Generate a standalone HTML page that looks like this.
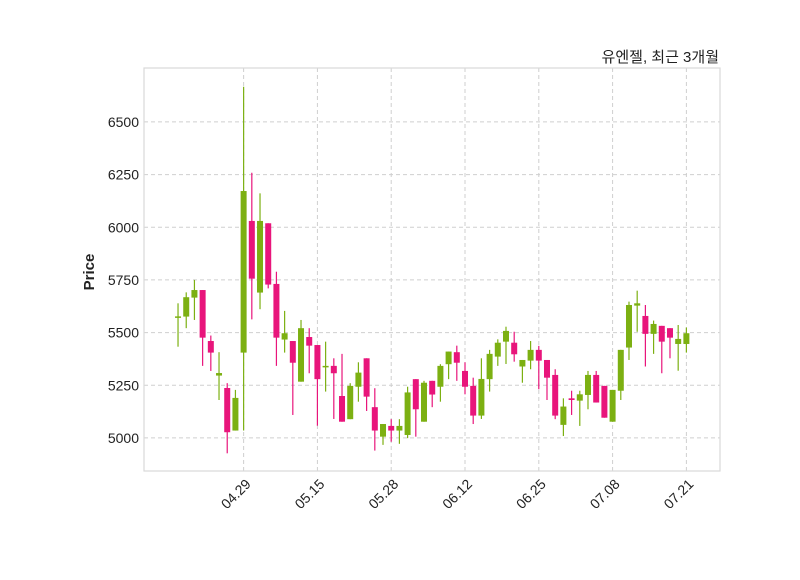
<!DOCTYPE html>
<html><head><meta charset="utf-8"><style>
body{margin:0;background:#fff;font-family:"Liberation Sans","Noto Sans CJK KR",sans-serif}
svg text{font-family:"Liberation Sans","Noto Sans CJK KR",sans-serif}
</style></head><body>
<svg id="chart" width="800" height="575" xmlns="http://www.w3.org/2000/svg">
<rect x="0" y="0" width="800" height="575" fill="#fff"/>
<g id="grid"></g>
<g id="candles"></g>
<rect x="144" y="68" width="576" height="403" fill="none" stroke="#d9d9d9" stroke-width="1.2"/>
<g id="yticks"></g>
<g id="xticks"></g>
<text x="0" y="0" transform="translate(94,272) rotate(-90)" text-anchor="middle" font-size="15" font-weight="bold" fill="#222">Price</text>
<text x="719" y="62" text-anchor="end" font-size="15" fill="#222">유엔젤, 최근 3개월</text>
</svg>
<script>
const opens=[5577,5576,5666,5702,5460,5296,5237,5035,5405,6030,5690,6019,5731,5467,5460,5267,5479,5441,5342,5342,5199,5089,5243,5378,5146,5006,5057,5035,5014,5279,5077,5271,5243,5350,5407,5318,5247,5106,5279,5386,5457,5452,5339,5367,5418,5370,5299,5062,5188,5177,5204,5299,5247,5077,5224,5429,5628,5579,5494,5532,5521,5446,5446];
const closes=[5577,5668,5702,5476,5405,5308,5027,5190,6172,5756,6030,5728,5476,5497,5357,5521,5438,5279,5342,5307,5077,5247,5310,5196,5035,5066,5035,5057,5216,5136,5262,5206,5342,5410,5357,5243,5106,5280,5399,5452,5508,5397,5370,5418,5367,5286,5106,5149,5180,5207,5299,5168,5096,5228,5418,5631,5639,5494,5541,5457,5476,5470,5497];
const highs=[5639,5691,5750,5702,5486,5407,5260,5228,6667,6259,6161,6019,5789,5603,5460,5560,5521,5441,5457,5378,5399,5260,5359,5378,5236,5066,5089,5089,5243,5279,5271,5271,5350,5410,5438,5359,5286,5378,5418,5468,5528,5504,5370,5460,5437,5370,5326,5188,5224,5224,5318,5318,5247,5228,5418,5647,5699,5631,5557,5532,5521,5536,5524];
const lows=[5433,5521,5560,5342,5318,5180,4927,5035,5035,5563,5611,5710,5342,5405,5109,5267,5307,5058,5220,5090,5077,5089,5172,5128,4940,4967,4982,4972,4999,5006,5077,5146,5172,5279,5271,5207,5066,5090,5220,5342,5351,5362,5262,5326,5231,5180,5089,5009,5109,5057,5136,5168,5096,5077,5180,5370,5504,5339,5399,5307,5378,5319,5405];
const xTickIdx=[8,17,26,35,44,53,62];
const xTickLabels=["04.29","05.15","05.28","06.12","06.25","07.08","07.21"];
const yTicks=[5000,5250,5500,5750,6000,6250,6500];

const NS="http://www.w3.org/2000/svg";
const X0=144,X1=720,Y0=68,Y1=471;
const xMin=-4.15,xMax=66.1,pMin=4843,pMax=6756;
const xs=i=>X0+(i-xMin)/(xMax-xMin)*(X1-X0);
const ys=p=>Y1-(p-pMin)/(pMax-pMin)*(Y1-Y0);
function mk(tag,attrs,parent){const e=document.createElementNS(NS,tag);for(const k in attrs)e.setAttribute(k,attrs[k]);parent.appendChild(e);return e;}
const grid=document.getElementById('grid'),yt=document.getElementById('yticks'),xt=document.getElementById('xticks'),cg=document.getElementById('candles');
yTicks.forEach(v=>{
  const y=ys(v);
  const l=mk('line',{x1:X0,x2:X1,y1:y,y2:y,stroke:'#cfcfcf','stroke-dasharray':'4,3','stroke-width':1},grid);
  
  
  const t=mk('text',{x:X0-5,y:y+5,'text-anchor':'end','font-size':14,fill:'#222'},yt);
  t.textContent=v;
  
  
});
xTickIdx.forEach((idx,k)=>{
  const x=xs(idx);
  const l=mk('line',{x1:x,x2:x,y1:Y0,y2:Y1,stroke:'#cfcfcf','stroke-dasharray':'4,3','stroke-width':1},grid);
  
  
  const t=mk('text',{x:0,y:0,'text-anchor':'end','font-size':14,fill:'#222',transform:`translate(${x+8},${Y1+14}) rotate(-45)`},xt);
  t.textContent=xTickLabels[k];
  
  
});
opens.forEach((o,i)=>{
  const c=closes[i],up=c>=o,col=up?'#7cb012':'#e8157b';
  const x=xs(i);
  const w=mk('line',{x1:x,x2:x,y1:ys(highs[i]),y2:ys(lows[i]),stroke:col,'stroke-width':1.2},cg);
  
  
  const top=ys(Math.max(o,c)),bot=ys(Math.min(o,c));
  const r=mk('rect',{x:x-3,y:top,width:6,height:Math.max(bot-top,1.5),fill:col},cg);
  
  
});
</script>
</body></html>
